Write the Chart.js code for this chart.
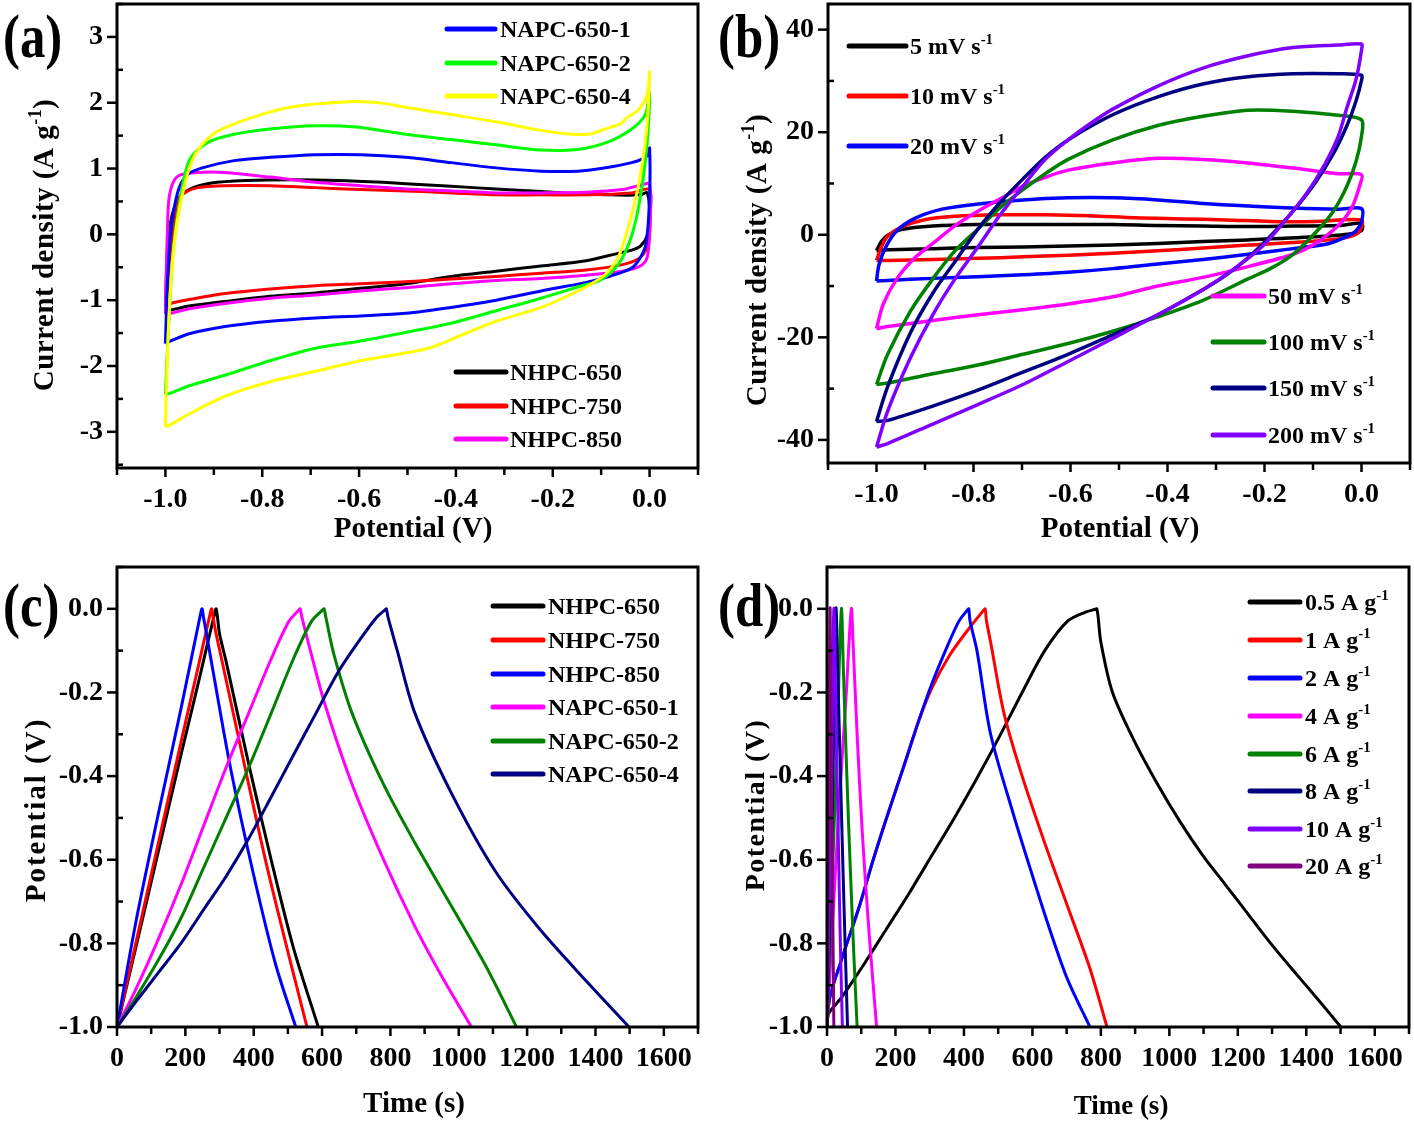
<!DOCTYPE html>
<html>
<head>
<meta charset="utf-8">
<script src="https://cdn.jsdelivr.net/npm/chart.js@4/dist/chart.umd.min.js"></script>
<style>
  html, body { margin: 0; padding: 0; background: #fff; }
  #fig { position: relative; width: 1414px; height: 1125px; }
  canvas { position: absolute; }
</style>
</head>
<body>
<div id="fig">
  <canvas id="cvA" width="707" height="560" style="left:0;top:0"></canvas>
  <canvas id="cvB" width="707" height="560" style="left:707px;top:0"></canvas>
  <canvas id="cvC" width="707" height="565" style="left:0;top:560px"></canvas>
  <canvas id="cvD" width="707" height="565" style="left:707px;top:560px"></canvas>
</div>
<script>
const FONT = '"Liberation Serif", "Times New Roman", serif';

// (a) CV loops of the six carbons, [potential V, current A/g]
const aNames = ['NHPC-650', 'NHPC-750', 'NHPC-850', 'NAPC-650-1', 'NAPC-650-2', 'NAPC-650-4'];
const aNHPC650 = [[-1.0,-1.16],[-0.996,-0.24],[-0.989,0.2],[-0.975,0.52],[-0.951,0.68],[-0.905,0.78],[-0.83,0.82],[-0.737,0.83],[-0.644,0.82],[-0.55,0.79],[-0.457,0.75],[-0.364,0.71],[-0.271,0.67],[-0.177,0.63],[-0.084,0.60],[-0.019,0.60],[-0.005,0.63],[0,0.30],[-0.005,-0.02],[-0.019,-0.18],[-0.037,-0.24],[-0.084,-0.32],[-0.131,-0.40],[-0.224,-0.48],[-0.317,-0.56],[-0.41,-0.64],[-0.504,-0.75],[-0.597,-0.82],[-0.69,-0.89],[-0.784,-0.94],[-0.877,-1.02],[-0.951,-1.09],[-0.989,-1.15],[-1.0,-1.16]];
const aNHPC750 = [[-0.998,-1.08],[-0.993,-0.5],[-0.984,0.03],[-0.975,0.52],[-0.961,0.63],[-0.933,0.71],[-0.877,0.74],[-0.784,0.74],[-0.69,0.71],[-0.597,0.68],[-0.504,0.66],[-0.41,0.63],[-0.317,0.60],[-0.224,0.60],[-0.131,0.60],[-0.037,0.63],[0,0.68],[0.001,0.30],[-0.002,-0.13],[-0.019,-0.35],[-0.056,-0.46],[-0.131,-0.54],[-0.224,-0.59],[-0.317,-0.64],[-0.41,-0.68],[-0.504,-0.72],[-0.597,-0.75],[-0.69,-0.78],[-0.784,-0.83],[-0.877,-0.90],[-0.951,-0.99],[-0.984,-1.04],[-0.998,-1.08]];
const aNHPC850 = [[-1.0,-1.21],[-0.998,-0.51],[-0.996,0.03],[-0.993,0.52],[-0.984,0.79],[-0.97,0.90],[-0.933,0.94],[-0.877,0.94],[-0.784,0.87],[-0.69,0.79],[-0.597,0.74],[-0.504,0.69],[-0.41,0.66],[-0.317,0.63],[-0.224,0.63],[-0.131,0.64],[-0.056,0.68],[-0.023,0.74],[0,0.76],[0,0.03],[-0.005,-0.35],[-0.019,-0.48],[-0.056,-0.56],[-0.131,-0.62],[-0.224,-0.67],[-0.317,-0.70],[-0.41,-0.75],[-0.504,-0.81],[-0.597,-0.86],[-0.69,-0.92],[-0.784,-0.97],[-0.877,-1.05],[-0.951,-1.13],[-0.989,-1.20],[-1.0,-1.21]];
const aNAPC1 = [[-1.0,-1.66],[-0.996,-0.78],[-0.989,0.03],[-0.975,0.63],[-0.956,0.90],[-0.924,1.01],[-0.858,1.12],[-0.784,1.17],[-0.69,1.21],[-0.597,1.21],[-0.504,1.17],[-0.41,1.09],[-0.317,1.01],[-0.224,0.96],[-0.149,0.96],[-0.084,1.02],[-0.037,1.09],[-0.017,1.14],[-0.004,1.2],[0,1.31],[0,0.57],[-0.007,-0.13],[-0.019,-0.35],[-0.037,-0.51],[-0.084,-0.64],[-0.131,-0.73],[-0.224,-0.86],[-0.317,-1.0],[-0.41,-1.11],[-0.504,-1.20],[-0.597,-1.24],[-0.69,-1.27],[-0.784,-1.32],[-0.877,-1.40],[-0.951,-1.51],[-0.989,-1.62],[-1.0,-1.66]];
const aNAPC2 = [[-1.0,-2.43],[-0.993,-1.32],[-0.984,-0.24],[-0.97,0.52],[-0.951,1.12],[-0.914,1.39],[-0.858,1.52],[-0.784,1.60],[-0.69,1.65],[-0.606,1.63],[-0.504,1.52],[-0.41,1.44],[-0.317,1.36],[-0.224,1.28],[-0.149,1.29],[-0.084,1.41],[-0.037,1.60],[-0.009,1.82],[0,2.15],[-0.005,1.39],[-0.019,0.57],[-0.037,-0.02],[-0.065,-0.46],[-0.103,-0.70],[-0.14,-0.78],[-0.224,-0.97],[-0.317,-1.16],[-0.41,-1.35],[-0.504,-1.49],[-0.597,-1.62],[-0.69,-1.73],[-0.784,-1.92],[-0.877,-2.14],[-0.951,-2.30],[-0.989,-2.41],[-1.0,-2.43]];
const aNAPC4 = [[-1.0,-2.92],[-0.996,-1.86],[-0.989,-0.78],[-0.979,0.03],[-0.966,0.57],[-0.951,1.0],[-0.933,1.28],[-0.896,1.55],[-0.85,1.70],[-0.802,1.82],[-0.75,1.92],[-0.69,1.98],[-0.606,2.02],[-0.55,1.99],[-0.504,1.93],[-0.41,1.82],[-0.317,1.71],[-0.224,1.58],[-0.159,1.52],[-0.12,1.53],[-0.093,1.60],[-0.06,1.68],[-0.047,1.77],[-0.025,1.88],[-0.014,1.98],[-0.004,2.15],[0,2.47],[-0.003,1.9],[-0.009,1.39],[-0.018,0.95],[-0.028,0.57],[-0.047,0.03],[-0.065,-0.35],[-0.093,-0.62],[-0.14,-0.83],[-0.224,-1.11],[-0.317,-1.32],[-0.382,-1.51],[-0.457,-1.73],[-0.597,-1.92],[-0.69,-2.08],[-0.784,-2.24],[-0.877,-2.46],[-0.951,-2.73],[-0.989,-2.89],[-1.0,-2.92]];

// (b) CV loops at different scan rates
const bRates = ['5 mV s^-1', '10 mV s^-1', '20 mV s^-1', '50 mV s^-1', '100 mV s^-1', '150 mV s^-1', '200 mV s^-1'];
const b5 = [[-1,-3.1],[-0.99,-1.3],[-0.977,-0.1],[-0.949,1.0],[-0.884,1.7],[-0.791,2.0],[-0.698,2.0],[-0.605,2.0],[-0.513,2.0],[-0.42,1.8],[-0.327,1.7],[-0.234,1.6],[-0.141,1.7],[-0.048,1.8],[0,2.2],[0,0.8],[-0.03,0.1],[-0.095,-0.4],[-0.234,-1.0],[-0.327,-1.3],[-0.42,-1.7],[-0.513,-2.0],[-0.605,-2.2],[-0.698,-2.4],[-0.791,-2.5],[-0.884,-2.7],[-0.977,-2.9],[-1,-3.1]];
const b10 = [[-1,-5.0],[-0.99,-2.4],[-0.977,-0.3],[-0.949,1.5],[-0.903,2.9],[-0.838,3.6],[-0.745,3.9],[-0.652,3.9],[-0.559,3.7],[-0.466,3.3],[-0.373,3.1],[-0.28,2.9],[-0.188,2.6],[-0.095,2.6],[0,2.9],[0,1.5],[-0.011,0.1],[-0.048,-0.8],[-0.141,-1.5],[-0.234,-2.0],[-0.327,-2.6],[-0.42,-3.1],[-0.513,-3.6],[-0.605,-4.0],[-0.698,-4.3],[-0.791,-4.6],[-0.884,-4.8],[-0.977,-5.0],[-1,-5.0]];
const b20 = [[-1,-9.0],[-0.995,-5.9],[-0.981,-2.4],[-0.958,0.8],[-0.921,3.2],[-0.865,5.0],[-0.791,6.0],[-0.698,6.8],[-0.605,7.2],[-0.513,7.2],[-0.42,6.8],[-0.327,6.1],[-0.234,5.6],[-0.141,5.2],[-0.048,5.0],[0,5.1],[0,2.5],[-0.011,0.8],[-0.03,-0.3],[-0.067,-1.7],[-0.141,-2.7],[-0.234,-3.8],[-0.327,-4.8],[-0.42,-5.7],[-0.513,-6.6],[-0.605,-7.3],[-0.698,-7.8],[-0.791,-8.2],[-0.884,-8.5],[-0.977,-8.9],[-1,-9.0]];
const b50 = [[-1,-18.3],[-0.986,-13.5],[-0.958,-8.6],[-0.921,-4.5],[-0.884,-1.7],[-0.838,1.8],[-0.791,4.6],[-0.745,7.0],[-0.698,9.5],[-0.652,11.2],[-0.605,12.6],[-0.513,14.0],[-0.42,14.9],[-0.327,14.7],[-0.234,14.0],[-0.141,13.0],[-0.048,11.9],[0,11.7],[-0.004,9.5],[-0.02,5.3],[-0.048,1.8],[-0.095,-1.7],[-0.141,-3.8],[-0.234,-6.2],[-0.327,-8.3],[-0.42,-10.0],[-0.513,-12.1],[-0.605,-13.5],[-0.698,-14.6],[-0.791,-15.6],[-0.884,-16.7],[-0.977,-17.9],[-1,-18.3]];
const b100 = [[-1,-29.2],[-0.977,-23.3],[-0.93,-14.9],[-0.884,-8.6],[-0.838,-3.1],[-0.791,1.1],[-0.745,5.3],[-0.698,8.8],[-0.652,11.9],[-0.605,14.7],[-0.513,18.5],[-0.42,21.3],[-0.327,23.1],[-0.234,24.3],[-0.141,24.1],[-0.048,23.3],[0,22.4],[0,19.2],[-0.011,14.4],[-0.03,9.5],[-0.058,4.6],[-0.095,0.4],[-0.141,-3.8],[-0.188,-6.6],[-0.234,-8.6],[-0.327,-12.8],[-0.42,-16.0],[-0.513,-18.8],[-0.605,-21.2],[-0.698,-23.3],[-0.791,-25.4],[-0.884,-27.1],[-0.977,-28.9],[-1,-29.2]];
const b150 = [[-1,-36.4],[-0.977,-29.6],[-0.93,-19.1],[-0.884,-11.4],[-0.838,-5.2],[-0.791,1.1],[-0.745,6.3],[-0.698,10.9],[-0.652,15.1],[-0.605,18.5],[-0.513,23.4],[-0.42,26.9],[-0.327,29.4],[-0.234,30.8],[-0.141,31.4],[-0.048,31.4],[0,31.1],[0,30.1],[-0.011,26.2],[-0.03,21.3],[-0.058,15.8],[-0.095,10.2],[-0.141,4.6],[-0.188,-0.3],[-0.234,-4.5],[-0.28,-7.9],[-0.327,-10.7],[-0.42,-15.6],[-0.513,-19.5],[-0.605,-23.3],[-0.698,-26.8],[-0.791,-30.3],[-0.884,-33.4],[-0.977,-36.2],[-1,-36.4]];
const b200 = [[-1,-41.4],[-0.977,-34.4],[-0.93,-24.0],[-0.884,-15.6],[-0.838,-8.6],[-0.791,-2.4],[-0.745,3.9],[-0.698,9.5],[-0.652,14.7],[-0.605,18.5],[-0.559,21.7],[-0.513,24.5],[-0.42,29.0],[-0.327,32.5],[-0.234,34.9],[-0.141,36.5],[-0.048,37.0],[0,37.2],[0,36.0],[-0.011,30.4],[-0.03,24.8],[-0.048,19.2],[-0.076,13.7],[-0.113,8.1],[-0.16,2.5],[-0.206,-2.4],[-0.262,-6.6],[-0.327,-10.7],[-0.42,-15.6],[-0.513,-20.2],[-0.605,-24.7],[-0.698,-29.2],[-0.791,-33.1],[-0.884,-36.9],[-0.977,-40.7],[-1,-41.4]];

// (c) charge-discharge curves, [time s, potential V]
const cNames = ['NHPC-650', 'NHPC-750', 'NHPC-850', 'NAPC-650-1', 'NAPC-650-2', 'NAPC-650-4'];
const cNHPC650 = [[0,-1],[55,-0.81],[121,-0.58],[187,-0.35],[240,-0.17],[286,-0.01],[290,0],[294,-0.02],[300,-0.06],[319,-0.125],[385,-0.37],[451,-0.60],[516,-0.81],[589,-1.0]];
const cNHPC750 = [[0,-1],[55,-0.80],[121,-0.56],[187,-0.32],[240,-0.13],[273,-0.01],[277,0],[281,-0.02],[290,-0.06],[306,-0.12],[372,-0.37],[437,-0.61],[503,-0.83],[556,-1.0]];
const cNHPC850 = [[0,-1],[55,-0.75],[121,-0.49],[187,-0.24],[245,-0.01],[249,0],[253,-0.02],[262,-0.06],[279,-0.14],[332,-0.38],[398,-0.63],[464,-0.85],[523,-1.0]];
const cNAPC1 = [[0,-1],[55,-0.91],[121,-0.79],[187,-0.66],[253,-0.52],[319,-0.38],[385,-0.25],[451,-0.12],[503,-0.03],[532,-0.003],[536,0],[541,-0.02],[569,-0.11],[609,-0.23],[688,-0.42],[780,-0.60],[872,-0.76],[951,-0.88],[1037,-1.0]];
const cNAPC2 = [[0,-1],[55,-0.93],[121,-0.84],[187,-0.74],[253,-0.62],[319,-0.50],[385,-0.38],[451,-0.25],[516,-0.12],[569,-0.03],[601,-0.003],[606,0],[611,-0.02],[635,-0.11],[688,-0.25],[780,-0.42],[872,-0.56],[978,-0.71],[1083,-0.86],[1169,-1.0]];
const cNAPC4 = [[0,-1],[55,-0.94],[121,-0.87],[187,-0.80],[253,-0.72],[319,-0.64],[385,-0.55],[451,-0.45],[516,-0.35],[582,-0.25],[648,-0.15],[714,-0.07],[760,-0.02],[785,-0.002],[788,0],[793,-0.02],[820,-0.10],[872,-0.25],[978,-0.44],[1109,-0.63],[1241,-0.77],[1373,-0.89],[1498,-1.0]];

// (d) charge-discharge of one sample at several current densities
const dRates = ['0.5 A g^-1', '1 A g^-1', '2 A g^-1', '4 A g^-1', '6 A g^-1', '8 A g^-1', '10 A g^-1', '20 A g^-1'];
const d05 = [[0,-1],[3,-0.97],[42,-0.93],[108,-0.85],[174,-0.765],[240,-0.68],[306,-0.59],[372,-0.50],[438,-0.405],[504,-0.305],[570,-0.20],[636,-0.10],[702,-0.03],[755,-0.008],[784,-0.001],[788,0],[792,-0.02],[800,-0.08],[834,-0.2],[900,-0.32],[966,-0.42],[1032,-0.51],[1098,-0.59],[1164,-0.66],[1230,-0.73],[1296,-0.80],[1362,-0.865],[1430,-0.93],[1501,-1.0]];
const d1 = [[0,-1],[8,-0.93],[42,-0.84],[95,-0.71],[135,-0.60],[174,-0.50],[227,-0.37],[267,-0.27],[306,-0.19],[359,-0.11],[412,-0.05],[458,-0.003],[462,0],[466,-0.03],[478,-0.08],[517,-0.25],[570,-0.40],[636,-0.56],[702,-0.71],[768,-0.86],[818,-1.0]];
const d2 = [[0,-1],[8,-0.93],[42,-0.84],[95,-0.71],[135,-0.60],[174,-0.50],[227,-0.37],[267,-0.27],[306,-0.18],[346,-0.10],[385,-0.03],[410,-0.003],[414,0],[418,-0.03],[438,-0.10],[478,-0.30],[544,-0.49],[597,-0.63],[650,-0.765],[702,-0.885],[768,-1.0]];
const d4 = [[0,-1],[10,-0.85],[25,-0.62],[40,-0.41],[55,-0.22],[71,0],[76,-0.08],[88,-0.30],[102,-0.52],[118,-0.72],[132,-0.87],[145,-1.0]];
const d6 = [[0,-1],[10,-0.76],[20,-0.54],[30,-0.30],[42,0],[48,-0.15],[58,-0.40],[68,-0.62],[78,-0.82],[88,-1.0]];
const d8 = [[0,-1],[8,-0.75],[16,-0.48],[26,0],[33,-0.2],[41,-0.45],[50,-0.72],[60,-1.0]];
const d10 = [[0,-1],[7,-0.7],[13,-0.42],[20,0],[26,-0.25],[33,-0.55],[39,-0.8],[45,-1.0]];
const d20 = [[0,-1],[4,-0.6],[9,0],[12,-0.3],[16,-0.65],[20,-1.0]];

const aColors = ['#000000', '#ff0000', '#ff00ff', '#0000ff', '#00ff00', '#ffff00'];
const bColors = ['#000000', '#ff0000', '#0000ff', '#ff00ff', '#008000', '#000080', '#8000ff'];
const cColors = ['#000000', '#ff0000', '#0000ff', '#ff00ff', '#008000', '#000080'];
const dColors = ['#000000', '#ff0000', '#0000ff', '#ff00ff', '#008000', '#000080', '#8000ff', '#800080'];

// text with ^superscript pieces
function pieces(s) {
  const out = [];
  let last = 0;
  s.replace(/\^([^\s)]+)/g, (m, g, i) => {
    if (i > last) out.push({ t: s.slice(last, i) });
    out.push({ t: g, sup: true });
    last = i + m.length;
  });
  if (last < s.length) out.push({ t: s.slice(last) });
  return out;
}

function rich(ctx, s, x, y, size, spacing, dry) {
  let cx = x;
  ctx.letterSpacing = (spacing || 0) + 'px';
  for (const p of pieces(s)) {
    const fs = p.sup ? size * 0.62 : size;
    ctx.font = 'bold ' + fs + 'px ' + FONT;
    if (!dry) ctx.fillText(p.t, cx, p.sup ? y - size * 0.4 : y);
    cx += ctx.measureText(p.t).width;
  }
  ctx.letterSpacing = '0px';
  return cx - x;
}

const decor = {
  id: 'decor',
  afterDraw(chart, args, o) {
    const ctx = chart.ctx, a = chart.chartArea;
    ctx.save();
    ctx.strokeStyle = '#000';
    ctx.fillStyle = '#000';
    ctx.lineWidth = 2.5;
    for (const s of [chart.scales.x, chart.scales.y]) {
      for (const t of s.ticks) {
        const major = t.label !== '';
        const p = s.getPixelForValue(t.value);
        ctx.beginPath();
        if (s.isHorizontal()) {
          ctx.moveTo(p, a.bottom); ctx.lineTo(p, a.bottom + (major ? 9 : 7));
        } else if (major) {
          ctx.moveTo(a.left - 10, p); ctx.lineTo(a.left, p);
        } else {
          ctx.moveTo(a.left, p); ctx.lineTo(a.left + 6, p);
        }
        ctx.stroke();
      }
    }
    ctx.lineWidth = 3;
    ctx.strokeRect(a.left, a.top, a.right - a.left, a.bottom - a.top);

    ctx.textBaseline = 'alphabetic';
    // legends
    for (const L of o.legends) {
      L.items.forEach((idx, k) => {
        const ds = chart.data.datasets[idx];
        const y = L.ys[k];
        ctx.strokeStyle = ds.borderColor;
        ctx.lineWidth = 5;
        ctx.lineCap = 'round';
        ctx.beginPath(); ctx.moveTo(L.x, y); ctx.lineTo(L.x + L.len, y); ctx.stroke();
        rich(ctx, ds.label, L.tx, y + 8, 24, 0);
      });
    }
    // axis titles
    const xt = o.xTitle;
    const wx = rich(ctx, xt.text, 0, 0, xt.size, 0, true);
    rich(ctx, xt.text, xt.x - wx / 2, xt.y, xt.size, 0);
    const yt = o.yTitle;
    ctx.save();
    ctx.translate(yt.x, yt.y);
    ctx.rotate(-Math.PI / 2);
    const wy = rich(ctx, yt.text, 0, 0, yt.size, yt.spacing, true);
    rich(ctx, yt.text, -wy / 2, 0, yt.size, yt.spacing);
    ctx.restore();
    // panel letter
    ctx.save();
    ctx.translate(o.label.x, o.label.y);
    ctx.scale(0.82, 1);
    ctx.font = 'bold 62px ' + FONT;
    ctx.fillText(o.label.text, 0, 0);
    ctx.restore();
    ctx.restore();
  }
};

function axis(side, min, max, step, labelStep, digits, fit, pad) {
  return {
    type: 'linear', position: side, min: min, max: max,
    grid: { display: false, drawTicks: false },
    border: { display: false },
    ticks: {
      autoSkip: false, maxRotation: 0, padding: pad, color: '#000',
      font: { family: FONT, size: 28, weight: 'bold' },
      callback: v => {
        const k = v / labelStep;
        return Math.abs(k - Math.round(k)) < 1e-6 ? (Math.round(v * 1000) / 1000 + 0).toFixed(digits) : '';
      }
    },
    afterBuildTicks: s => {
      const t = [];
      const first = Math.ceil(min / step - 1e-6), last = Math.floor(max / step + 1e-6);
      for (let k = first; k <= last; k++) t.push({ value: +(k * step).toFixed(6) });
      s.ticks = t;
    },
    afterFit: s => {
      if (side === 'bottom') { s.height = fit; s.paddingLeft = 0; s.paddingRight = 0; }
      else { s.width = fit; s.paddingTop = 0; s.paddingBottom = 0; }
    }
  };
}

function makeChart(id, sets, names, colors, width, xAx, yAx, pad, deco) {
  const datasets = sets.map((pairs, i) => ({
    label: names[i],
    data: pairs.map(p => ({ x: p[0], y: p[1] })),
    borderColor: colors[i], backgroundColor: colors[i],
    borderWidth: width, pointRadius: 0, showLine: true, tension: 0.3,
    borderJoinStyle: 'round', order: -i
  }));
  return new Chart(document.getElementById(id), {
    type: 'scatter',
    data: { datasets },
    options: {
      responsive: false, animation: false, events: [],
      layout: { padding: pad },
      plugins: { legend: { display: false }, tooltip: { enabled: false }, decor: deco },
      scales: { x: xAx, y: yAx }
    },
    plugins: [decor]
  });
}

makeChart('cvA', [aNHPC650, aNHPC750, aNHPC850, aNAPC1, aNAPC2, aNAPC4], aNames, aColors, 3,
  axis('bottom', -1.1, 0.1, 0.1, 0.2, 1, 92, 15),
  axis('left', -3.55, 3.5, 0.5, 1, 0, 117, 14),
  { left: 0, top: 4, right: 9, bottom: 0 },
  {
    label: { text: '(a)', x: 3, y: 57 },
    xTitle: { text: 'Potential (V)', x: 413, y: 537, size: 29 },
    yTitle: { text: 'Current density (A g^-1)', x: 53, y: 245, size: 29, spacing: 0.5 },
    legends: [
      { items: [3, 4, 5], x: 447, len: 48, tx: 500, ys: [29, 63, 96] },
      { items: [0, 1, 2], x: 456, len: 50, tx: 510, ys: [372, 406, 439] }
    ]
  });

makeChart('cvB', [b5, b10, b20, b50, b100, b150, b200], bRates, bColors, 3.5,
  axis('bottom', -1.1, 0.1, 0.1, 0.2, 1, 97, 15),
  axis('left', -44.5, 45, 10, 20, 0, 121, 14),
  { left: 0, top: 4, right: 4, bottom: 0 },
  {
    label: { text: '(b)', x: 11, y: 57 },
    xTitle: { text: 'Potential (V)', x: 413, y: 537, size: 29 },
    yTitle: { text: 'Current density (A g^-1)', x: 59, y: 260, size: 29, spacing: 0.5 },
    legends: [
      { items: [0, 1, 2], x: 142, len: 57, tx: 203, ys: [46, 96, 146] },
      { items: [3, 4, 5, 6], x: 506, len: 51, tx: 561, ys: [296, 342, 388, 435] }
    ]
  });

makeChart('cvC', [cNHPC650, cNHPC750, cNHPC850, cNAPC1, cNAPC2, cNAPC4], cNames, cColors, 3,
  axis('bottom', 0, 1700, 100, 200, 0, 98, 15),
  axis('left', -1.0, 0.1, 0.1, 0.2, 1, 117, 14),
  { left: 0, top: 7, right: 9, bottom: 0 },
  {
    label: { text: '(c)', x: 3, y: 66 },
    xTitle: { text: 'Time (s)', x: 414, y: 552, size: 29 },
    yTitle: { text: 'Potential (V)', x: 45, y: 250, size: 29, spacing: 2 },
    legends: [
      { items: [0, 1, 2, 3, 4, 5], x: 493, len: 50, tx: 548, ys: [46, 80, 114, 147, 181, 214] }
    ]
  });

makeChart('cvD', [d05, d1, d2, d4, d6, d8, d10, d20], dRates, dColors, 3,
  axis('bottom', 0, 1700, 100, 200, 0, 98, 15),
  axis('left', -1.0, 0.1, 0.1, 0.2, 1, 120, 14),
  { left: 0, top: 7, right: 5, bottom: 0 },
  {
    label: { text: '(d)', x: 11, y: 66 },
    xTitle: { text: 'Time (s)', x: 414, y: 554, size: 27 },
    yTitle: { text: 'Potential (V)', x: 57, y: 245, size: 28, spacing: 1.5 },
    legends: [
      { items: [0, 1, 2, 3, 4, 5, 6, 7], x: 543, len: 50, tx: 598, ys: [42, 80, 118, 156, 194, 231, 269, 306] }
    ]
  });
</script>
</body>
</html>
